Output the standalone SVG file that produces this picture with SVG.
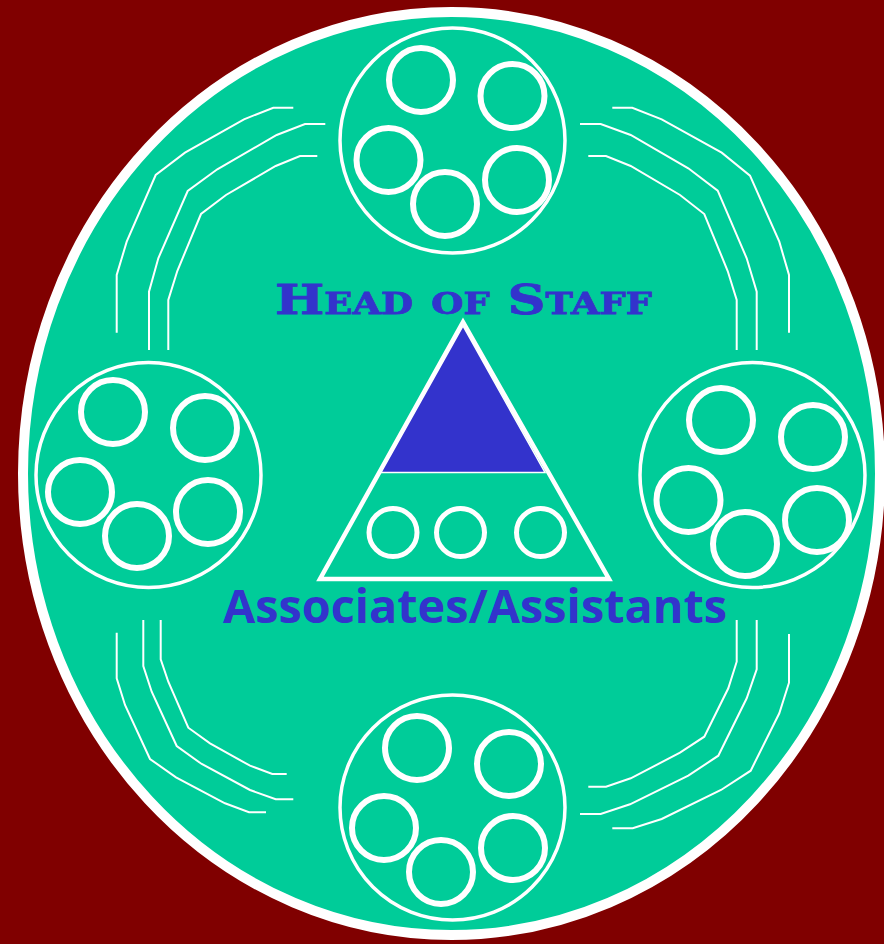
<svg xmlns="http://www.w3.org/2000/svg" width="884" height="944" viewBox="0 0 884 944">
  <style>
    .cl { fill: none; stroke: #FFFFFF; stroke-width: 3.5; }
    .sm { fill: none; stroke: #FFFFFF; stroke-width: 6; }
    .tc { fill: none; stroke: #FFFFFF; stroke-width: 5; }
    .ln { fill: none; stroke: #FFFFFF; stroke-width: 2; }
    .hd { font-family: "DejaVu Serif", "Liberation Serif", serif; font-weight: bold; font-variant: small-caps; font-size: 41px; fill: #3333CC; stroke: #3333CC; stroke-width: 0.8; }
    .as { font-family: "Open Sans", "DejaVu Sans", sans-serif; font-weight: bold; font-size: 46px; fill: #3333CC; }
  </style>
  <rect x="0" y="0" width="884" height="944" fill="#800000"/>
  <g id="background">
    <ellipse cx="451.5" cy="473.5" rx="428.5" ry="461.5" fill="#00CC99" stroke="#FFFFFF" stroke-width="10"/>
  </g>
  <g id="connectors">
    <polyline class="ln" points="293.3,107.7 273.3,107.7 244,119.3 185,152.7 155.7,175 126.7,241.7 116.7,275 116.7,332.7"/>
    <polyline class="ln" points="325.3,124 305,124 276.7,135 217.3,169.3 187.7,191 158.3,258.3 149,291.7 149,350"/>
    <polyline class="ln" points="317.3,156 300,156 275.7,166 226,195 201,214 177.3,271 168.3,300 168.3,350"/>
    <polyline class="ln" points="612.3,107.7 632.3,107.7 661.7,119.3 721.7,152.7 750,175.7 779.3,241.7 789,275 789,332.7"/>
    <polyline class="ln" points="580,124 600.7,124 630.7,135 688.3,168.3 717.7,190.7 746.7,258.3 756.7,291.7 756.7,350"/>
    <polyline class="ln" points="588.3,156 606,156 630.7,166 680,195 704.3,214 727.7,271 736.7,300 736.7,350"/>
    <polyline class="ln" points="116.7,632.7 116.7,678.3 125,705 150,759 176,777.3 225,803.3 249,812.3 266,812.3"/>
    <polyline class="ln" points="143.3,620 143.3,666 151.7,691.7 176.7,746 201.7,764 250,790 275.7,799.3 293.3,799.3"/>
    <polyline class="ln" points="160.7,620 160.7,659.3 168.3,681.7 188.3,727.7 210,743.3 250,765.7 272.3,774 286.7,774"/>
    <polyline class="ln" points="736.7,620 736.7,661.7 728.3,688.3 704.3,736.7 680,752.7 630.7,778.3 606,786.7 588.3,786.7"/>
    <polyline class="ln" points="756.7,620 756.7,669.3 746.7,698.3 718.3,755.7 688.3,775.7 630,804.3 600.7,814 580,814"/>
    <polyline class="ln" points="789,634 789,682.7 779.3,713.3 750.7,770.7 721,790 661.7,819 632.7,828.3 612.3,828.3"/>
  </g>
  <g id="cluster-top">
    <circle class="cl" cx="452.5" cy="140.5" r="112.5"/>
    <circle class="sm" cx="421" cy="80" r="32"/>
    <circle class="sm" cx="512.5" cy="96" r="32"/>
    <circle class="sm" cx="388.5" cy="160" r="32"/>
    <circle class="sm" cx="445" cy="204" r="32"/>
    <circle class="sm" cx="517" cy="180" r="32"/>
  </g>
  <g id="cluster-left">
    <circle class="cl" cx="148.5" cy="475" r="112.5"/>
    <circle class="sm" cx="113" cy="412" r="32"/>
    <circle class="sm" cx="205" cy="428" r="32"/>
    <circle class="sm" cx="80" cy="492" r="32"/>
    <circle class="sm" cx="137" cy="536" r="32"/>
    <circle class="sm" cx="208" cy="512" r="32"/>
  </g>
  <g id="cluster-right">
    <circle class="cl" cx="752.5" cy="475" r="112.5"/>
    <circle class="sm" cx="721" cy="420" r="32"/>
    <circle class="sm" cx="813" cy="437" r="32"/>
    <circle class="sm" cx="688.5" cy="500" r="32"/>
    <circle class="sm" cx="745" cy="544" r="32"/>
    <circle class="sm" cx="817" cy="520" r="32"/>
  </g>
  <g id="cluster-bottom">
    <circle class="cl" cx="452.5" cy="807.5" r="112.5"/>
    <circle class="sm" cx="417" cy="748" r="32"/>
    <circle class="sm" cx="509" cy="764" r="32"/>
    <circle class="sm" cx="384" cy="828" r="32"/>
    <circle class="sm" cx="441" cy="872" r="32"/>
    <circle class="sm" cx="513" cy="848" r="32"/>
  </g>
  <g id="pyramid">
    <polygon points="463,322 320,579 609,579" fill="none" stroke="#FFFFFF" stroke-width="4.5"/>
    <polygon points="463,326 381,472.5 545,472.5" fill="#3333CC" stroke="#FFFFFF" stroke-width="1.5"/>
    <circle class="tc" cx="393" cy="532.5" r="24"/>
    <circle class="tc" cx="460.5" cy="532.5" r="24"/>
    <circle class="tc" cx="540.5" cy="532.5" r="24"/>
  </g>
  <g id="label-head">
    <text class="hd" x="275" y="314" textLength="377" lengthAdjust="spacingAndGlyphs">Head of Staff</text>
  </g>
  <g id="label-associates">
    <text class="as" x="223" y="623" textLength="504" lengthAdjust="spacingAndGlyphs">Associates/Assistants</text>
  </g>
</svg>
